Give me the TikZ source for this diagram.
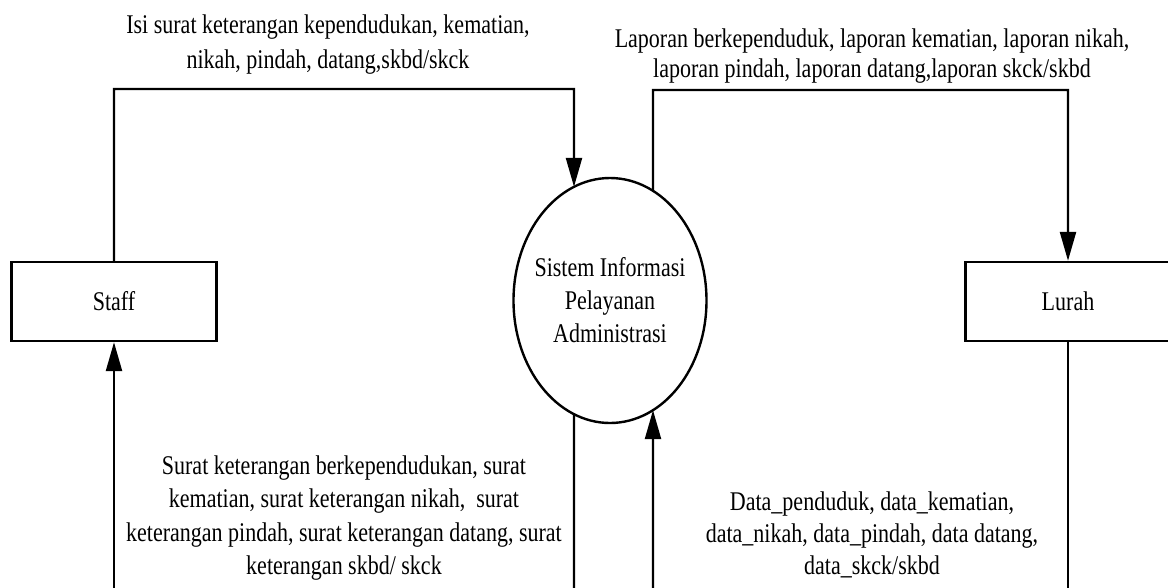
\documentclass[tikz,border=0pt]{standalone}
\usepackage{fontspec}
\setmainfont{Liberation Serif}[FakeStretch=0.815]
\usetikzlibrary{arrows.meta,shapes.geometric,intersections}
\begin{document}
\begin{tikzpicture}[x=1pt,y=-1pt,
  ln/.style={line width=2.4pt},
  arr/.style={line width=2.4pt,-{Triangle[length=29pt,width=16pt]}},
  ent/.style={draw,line width=2.4pt,minimum width=205pt,minimum height=79pt,inner sep=0pt,font=\fontsize{27}{33}\selectfont},
  txt/.style={align=center,inner sep=0pt}]
\useasboundingbox (0,0) rectangle (1168,587);
% nodes
\node[ent] (staff) at (114,301.5) {Staff};
\node[ent] (lurah) at (1068,301.5) {Lurah};
\node[draw,ellipse,line width=2.4pt,minimum width=193pt,minimum height=245pt,inner sep=0pt,name path=procp] (proc) at (610,300.5) {};
\node[txt,font=\fontsize{27}{33}\selectfont] (proct) at (proc.center) {Sistem Informasi\\Pelayanan\\Administrasi};
% labels
\node[txt,font=\fontsize{27}{35}\selectfont] (t1) at (328,45) {Isi surat keterangan kependudukan, kematian,\\nikah, pindah, datang,skbd/skck};
\node[txt,font=\fontsize{27}{30.5}\selectfont] (t2) at (872,56) {Laporan berkependuduk, laporan kematian, laporan nikah,\\laporan pindah, laporan datang,laporan skck/skbd};
\node[txt,font=\fontsize{27}{33.3}\selectfont] (t3) at (344,518) {Surat keterangan berkependudukan, surat\\kematian, surat keterangan nikah, \ surat\\keterangan pindah, surat keterangan datang, surat\\keterangan skbd/ skck};
\node[txt,font=\fontsize{27}{32}\selectfont] (t4) at (872,535) {Data\_penduduk, data\_kematian,\\data\_nikah, data\_pindah, data datang,\\data\_skck/skbd};
% helper coordinates
\coordinate (a1) at (114,89);
\coordinate (a2) at (574,89);
\coordinate (b1) at (653,90);
\coordinate (b2) at (1068,90);
\coordinate (c3) at (574,590);
\coordinate (d3) at (653,590);
\coordinate (e3) at (114,590);
\coordinate (f3) at (1068,590);
\path[name path=va] (574,80) -- (574,300);
\path[name path=vb] (653,80) -- (653,300);
\path[name path=vc] (574,300) -- (574,600);
\path[name path=vd] (653,300) -- (653,600);
\path[name intersections={of=va and procp,by=pa}];
\path[name intersections={of=vb and procp,by=pb}];
\path[name intersections={of=vc and procp,by=pc}];
\path[name intersections={of=vd and procp,by=pd}];
% connectors
\draw[arr] (staff.north) -- (a1) -- (a2) -- (pa);
\draw[arr] (pb) -- (b1) -- (b2) -- (lurah.north);
\draw[ln] (pc) -- (c3);
\draw[arr] (d3) -- (pd);
\draw[arr] (e3) -- (staff.south);
\draw[ln] (lurah.south) -- (f3);
\end{tikzpicture}
\end{document}
